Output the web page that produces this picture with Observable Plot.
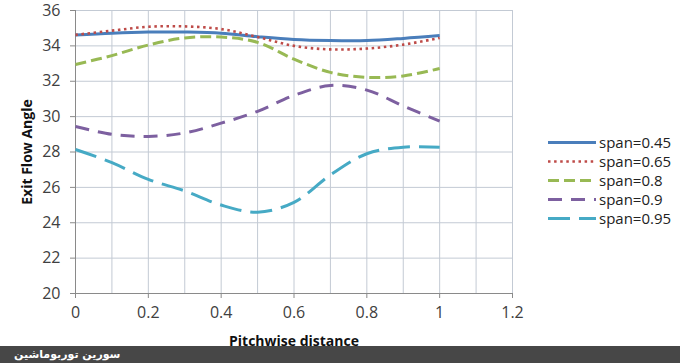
<!DOCTYPE html>
<html><head><meta charset="utf-8">
<script src="https://cdn.jsdelivr.net/npm/d3@7"></script>
<script src="https://cdn.jsdelivr.net/npm/@observablehq/plot@0.6"></script>
<style>
body{margin:0;background:#fff;}
#wrap{position:relative;width:680px;height:363px;overflow:hidden;font-family:"Open Sans",sans-serif;}
#bar{position:absolute;left:0;top:346px;width:680px;height:17px;background:#474747;z-index:0;}
#bar span{position:absolute;left:14px;top:1px;line-height:15px;color:#fff;font-weight:bold;font-size:11px;font-family:"DejaVu Sans",sans-serif;direction:rtl;unicode-bidi:plaintext;}
#chart{position:absolute;left:0;top:0;z-index:1;}
#legend{position:absolute;left:548px;top:133px;z-index:1;}
.row{display:flex;align-items:center;height:19px;}
.row svg{display:block;}
.row span{font-size:15px;color:#222;margin-left:3px;line-height:19px;}
g[aria-label="x-axis tick label"] text, g[aria-label="y-axis tick label"] text{font-size:16px;fill:#404040;}
g[aria-label="x-axis label"] text, g[aria-label="y-axis label"] text{font-weight:bold;fill:#111;font-size:14px;}
</style>
</head><body>
<div id="wrap">
  <div id="bar"><span>سورین توربوماشین</span></div>
  <div id="chart"></div>
  <div id="legend"></div>
</div>
<script>
// Data
const pitch = [0, 0.1, 0.2, 0.3, 0.4, 0.5, 0.6, 0.7, 0.8, 0.9, 1.0];
const span045 = [34.62, 34.72, 34.78, 34.78, 34.72, 34.52, 34.36, 34.3, 34.3, 34.42, 34.58];
const span065 = [34.62, 34.86, 35.08, 35.1, 34.95, 34.5, 34.0, 33.8, 33.85, 34.07, 34.45];
const span08  = [32.95, 33.45, 34.05, 34.45, 34.5, 34.2, 33.25, 32.5, 32.22, 32.3, 32.72];
const span09  = [29.44, 29.0, 28.88, 29.08, 29.63, 30.3, 31.2, 31.76, 31.5, 30.6, 29.75];
const span095 = [28.14, 27.4, 26.45, 25.8, 25.0, 24.6, 25.15, 26.7, 27.9, 28.27, 28.27];

const seriesNames = ["span=0.45", "span=0.65", "span=0.8", "span=0.9", "span=0.95"];
const seriesValues = [span045, span065, span08, span09, span095];
const seriesColors = ["#4A7EBB", "#BE4B48", "#98B954", "#7D60A0", "#46AAC5"];
const seriesDash = [null, "2.5,3.6", "11,5", "14,9", "22,9"];
const seriesWidth = [3, 2.6, 3, 3, 3];

const xTicks = [0, 0.2, 0.4, 0.6, 0.8, 1, 1.2];
const xGrid = [0, 0.1, 0.2, 0.3, 0.4, 0.5, 0.6, 0.7, 0.8, 0.9, 1, 1.1, 1.2];
const yTicks = [20, 22, 24, 26, 28, 30, 32, 34, 36];

const rows = [];
seriesNames.forEach((name, i) => {
  pitch.forEach((p, j) => rows.push({series: name, x: p, y: seriesValues[i][j]}));
});

const lineMarks = seriesNames.map((name, i) =>
  Plot.line(rows.filter(d => d.series === name), {
    x: "x", y: "y", curve: "catmull-rom",
    stroke: seriesColors[i], strokeWidth: seriesWidth[i],
    strokeDasharray: seriesDash[i] || undefined,
    strokeLinecap: "butt"
  })
);

const chart = Plot.plot({
  width: 680, height: 363,
  marginTop: 10, marginBottom: 70, marginLeft: 75, marginRight: 168,
  style: {background: "transparent", fontFamily: "'Open Sans', sans-serif", fontSize: "15px", color: "#595959", overflow: "visible"},
  x: {domain: [0, 1.2]},
  y: {domain: [20, 36]},
  marks: [
    Plot.gridX(xGrid, {stroke: "#c3cad4", strokeOpacity: 1}),
    Plot.gridY(yTicks, {stroke: "#c3cad4", strokeOpacity: 1}),
    Plot.axisX(xTicks, {tickSize: 5, tickPadding: 8, fontSize: 16, stroke: "#8a8a8a", tickFormat: d => String(d),
      label: "Pitchwise distance", labelArrow: "none", labelAnchor: "center", labelOffset: 52}),
    Plot.axisY(yTicks, {tickSize: 5, tickPadding: 10, fontSize: 16, stroke: "#8a8a8a", tickFormat: d => String(d),
      label: "Exit Flow Angle", labelArrow: "none", labelAnchor: "center", labelOffset: 53}),
    Plot.ruleY([20], {stroke: "#8a8a8a"}),
    Plot.ruleX([0], {stroke: "#8a8a8a"}),
    ...lineMarks
  ]
});
document.getElementById("chart").append(chart);

// Legend
const legend = document.getElementById("legend");
seriesNames.forEach((name, i) => {
  const row = document.createElement("div");
  row.className = "row";
  const ns = "http://www.w3.org/2000/svg";
  const s = document.createElementNS(ns, "svg");
  s.setAttribute("width", 48); s.setAttribute("height", 19);
  const l = document.createElementNS(ns, "line");
  l.setAttribute("x1", 0); l.setAttribute("x2", 48);
  l.setAttribute("y1", 9.5); l.setAttribute("y2", 9.5);
  l.setAttribute("stroke", seriesColors[i]);
  l.setAttribute("stroke-width", seriesWidth[i]);
  if (seriesDash[i]) l.setAttribute("stroke-dasharray", seriesDash[i]);
  s.append(l);
  const t = document.createElement("span");
  t.textContent = name;
  row.append(s, t);
  legend.append(row);
});
</script>
</body></html>
